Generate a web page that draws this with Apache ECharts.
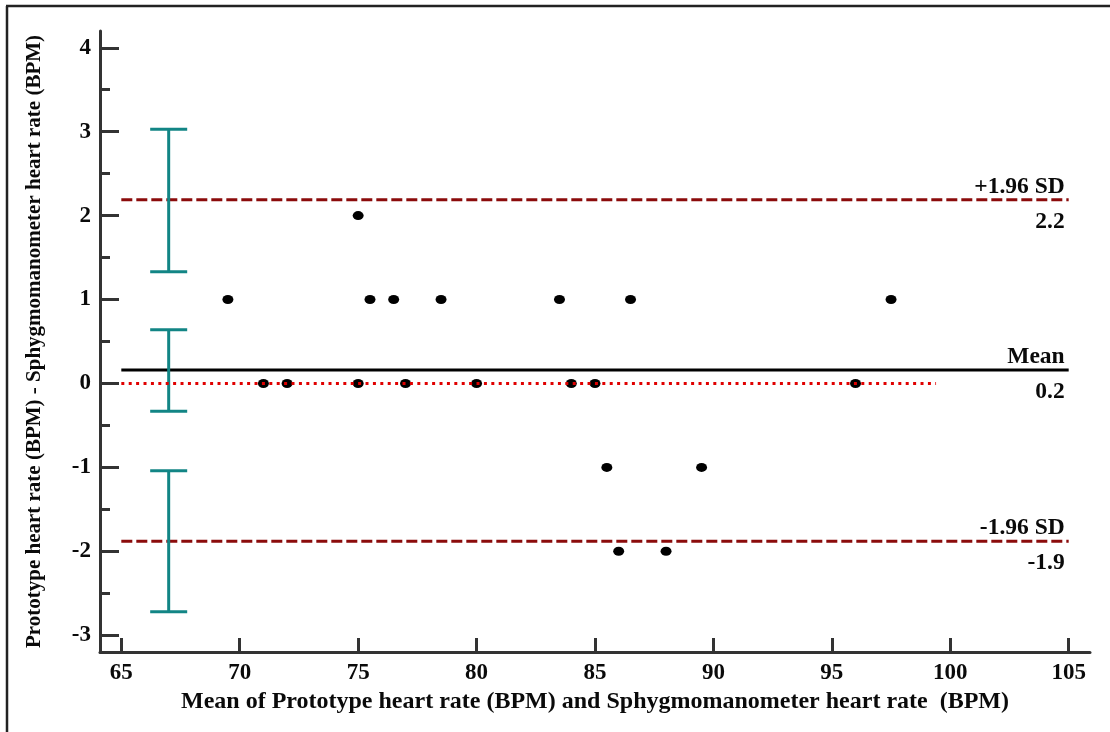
<!DOCTYPE html>
<html>
<head>
<meta charset="utf-8">
<script src="https://cdn.jsdelivr.net/npm/echarts@6/dist/echarts.min.js"></script>
<style>
html,body{margin:0;padding:0;background:#fff;}
#chart{width:1110px;height:732px;}
</style>
</head>
<body>
<div id="chart"></div>
<script>
// ---- data ----
const meanBPM = [69.5, 75.5, 76.5, 78.5, 83.5, 86.5, 97.5, 75, 71, 72, 75, 77, 80, 84, 85, 96, 85.5, 89.5, 86, 88];
const diffBPM = [1, 1, 1, 1, 1, 1, 1, 2, 0, 0, 0, 0, 0, 0, 0, 0, -1, -1, -2, -2];
const xTicks = [65, 70, 75, 80, 85, 90, 95, 100, 105];
const yTicks = [-3, -2, -1, 0, 1, 2, 3, 4];
const yMinorTicks = [-2.5, -1.5, -0.5, 0.5, 1.5, 2.5, 3.5];
const limitNames = ['+1.96 SD', 'Mean', '-1.96 SD'];
const limitValues = [2.19, 0.16, -1.88];
const limitText = ['2.2', '0.2', '-1.9'];
const limitRange = [65, 105];
const equalityRange = [65, 99.4];
const ciX = 67;
const ciLow = [1.33, -0.33, -2.72];
const ciHigh = [3.03, 0.64, -1.04];

const FONT = 'Liberation Serif';
const txt = { fontFamily: FONT, fontWeight: 'bold', color: '#0a0a0a' };

const chart = echarts.init(document.getElementById('chart'), null, { renderer: 'canvas' });

const scatterData = meanBPM.map((x, i) => [x, diffBPM[i]]);

const limitSeries = limitValues.map((v, i) => ({
  type: 'line',
  silent: true,
  symbol: 'none',
  z: 3,
  lineStyle: i === 1
    ? { color: '#000', width: 3, type: 'solid' }
    : { color: '#8b0b0b', width: 3, type: [11, 4] },
  data: [[limitRange[0], v], [limitRange[1], v]],
  animation: false
}));

const labelSeries = {
  type: 'scatter',
  silent: true,
  symbolSize: 0,
  z: 6,
  itemStyle: { opacity: 1 },
  data: limitValues.flatMap((v, i) => [
    { value: [limitRange[1], v], label: { show: true, position: 'top', align: 'right', offset: [-4, 4], formatter: limitNames[i], ...txt, fontSize: 23.5 } },
    { value: [limitRange[1], v], label: { show: true, position: 'bottom', align: 'right', offset: [-4, 5], formatter: limitText[i], ...txt, fontSize: 23.5 } }
  ]),
  animation: false
};

const ciSeries = {
  type: 'custom',
  z: 4,
  silent: true,
  data: ciLow.map((lo, i) => [ciX, lo, ciHigh[i]]),
  encode: { x: 0, y: [1, 2] },
  renderItem: function (params, api) {
    const x = api.value(0);
    const pLo = api.coord([x, api.value(1)]);
    const pHi = api.coord([x, api.value(2)]);
    const hw = 18.5;
    const st = { stroke: '#128585', lineWidth: 3 };
    return {
      type: 'group',
      children: [
        { type: 'line', shape: { x1: pLo[0], y1: pLo[1], x2: pHi[0], y2: pHi[1] }, style: st },
        { type: 'line', shape: { x1: pHi[0] - hw, y1: pHi[1], x2: pHi[0] + hw, y2: pHi[1] }, style: st },
        { type: 'line', shape: { x1: pLo[0] - hw, y1: pLo[1], x2: pLo[0] + hw, y2: pLo[1] }, style: st }
      ]
    };
  },
  animation: false
};

const option = {
  backgroundColor: '#fff',
  animation: false,
  grid: { left: 100, right: 20, top: 31, bottom: 80, containLabel: false },
  xAxis: {
    type: 'value',
    min: 64.1,
    max: 105.9,
    name: 'Mean of Prototype heart rate (BPM) and Sphygmomanometer heart rate  (BPM)',
    nameLocation: 'middle',
    nameGap: 38,
    nameTextStyle: { ...txt, fontSize: 24 },
    axisLine: { show: true, onZero: false, lineStyle: { color: '#333', width: 3 } },
    axisTick: { show: true, inside: true, length: 14, customValues: xTicks, lineStyle: { color: '#333', width: 3 } },
    axisLabel: { show: true, margin: 10, customValues: xTicks, ...txt, fontSize: 23 },
    splitLine: { show: false }
  },
  yAxis: [{
    type: 'value',
    min: -3.2,
    max: 4.2,
    position: 'left',
    name: 'Prototype heart rate (BPM) - Sphygmomanometer heart rate (BPM)',
    nameLocation: 'middle',
    nameRotate: 90,
    nameGap: 55,
    nameTextStyle: { ...txt, fontSize: 21 },
    axisLine: { show: true, onZero: false, lineStyle: { color: '#333', width: 3 } },
    axisTick: { show: true, inside: true, length: 19, customValues: yTicks, lineStyle: { color: '#333', width: 3 } },
    axisLabel: { show: true, margin: 9, customValues: yTicks, ...txt, fontSize: 23 },
    splitLine: { show: false }
  }, {
    type: 'value',
    min: -3.2,
    max: 4.2,
    position: 'left',
    offset: 0,
    axisLine: { show: false },
    axisTick: { show: true, inside: true, length: 10, customValues: yMinorTicks, lineStyle: { color: '#333', width: 3 } },
    axisLabel: { show: false },
    splitLine: { show: false }
  }],
  graphic: [
    { type: 'line', shape: { x1: 7, y1: 6, x2: 7, y2: 732 }, style: { stroke: '#222', lineWidth: 2.5 } },
    { type: 'line', shape: { x1: 6, y1: 6, x2: 1110, y2: 6 }, style: { stroke: '#222', lineWidth: 2.5 } }
  ],
  series: [
    ...limitSeries,
    {
      type: 'scatter',
      z: 5,
      silent: true,
      symbol: 'circle',
      symbolSize: [11, 9],
      itemStyle: { color: '#000', opacity: 1 },
      data: scatterData,
      animation: false
    },
    {
      type: 'line',
      z: 7,
      silent: true,
      symbol: 'none',
      lineStyle: { color: '#e00000', width: 3, type: [3, 4.4] },
      data: [[equalityRange[0], 0], [equalityRange[1], 0]],
      animation: false
    },
    ciSeries,
    labelSeries
  ]
};
chart.setOption(option);
</script>
</body>
</html>
